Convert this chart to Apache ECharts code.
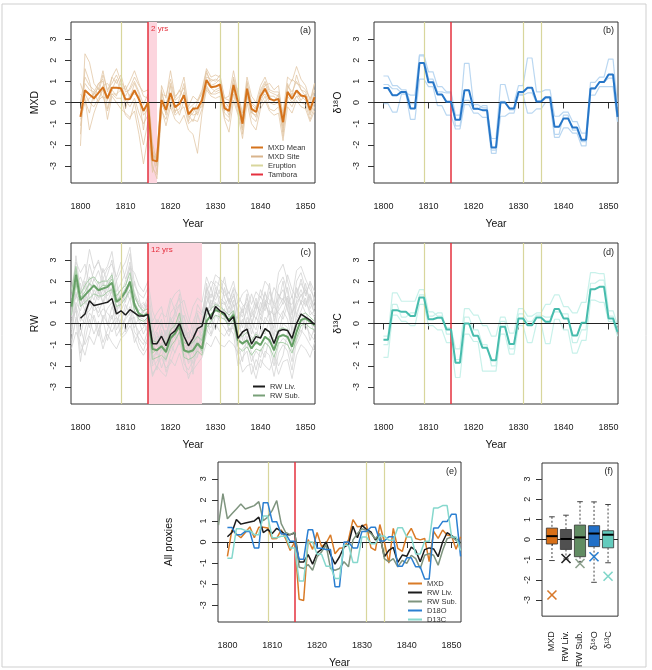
<!DOCTYPE html>
<html><head><meta charset="utf-8">
<script src="https://cdn.jsdelivr.net/npm/echarts@6.0.0/dist/echarts.min.js"></script>
<style>html,body{margin:0;padding:0;background:#fff}#c{width:652px;height:670px}</style>
</head><body><div id="c"></div>
<script>
// ---------- DATA ----------
const xTicks = [1800,1810,1820,1830,1840,1850];
const yTicks = [-3,-2,-1,0,1,2,3];
const eruptions = [1809,1831,1835];
const tambora = 1815;

// MXD (1800-1852)
const mxdMean = [-0.68,0.58,0.38,0.2,0.45,0.72,0.2,0.7,0.7,0.67,
 0.15,0.17,0.58,0.15,-0.4,0.0,-2.72,-2.78,0.12,-0.35,
 0.45,-0.22,-0.06,0.34,-0.56,-0.3,-0.27,0.1,1.06,0.72,
 0.75,0.85,-0.27,-0.4,0.83,0.0,-1.0,0.65,-0.3,-0.45,
 0.3,0.65,0.17,0.1,0.17,-0.93,0.5,0.17,0.57,0.33,
 0.28,-0.35,0.25];
const mxdSite1 = [-2.05,2.3,1.9,0.9,0.6,1.5,0.5,1.2,1.6,1.0,
 0.6,1.0,1.5,0.9,0.3,0.2,-2.3,-3.3,0.8,0.2,
 1.5,0.3,0.5,1.2,-0.2,0.3,0.1,0.6,1.6,1.2,
 1.3,1.2,0.2,0.3,1.5,0.4,-0.5,1.2,0.3,0.0,
 0.8,1.2,0.6,0.5,0.5,-0.5,1.2,1.0,1.7,1.1,
 0.8,0.1,0.9];
const mxdSite2 = [0.9,0.2,-1.3,-0.5,0.1,0.3,-0.4,0.4,0.2,0.2,
 -0.6,-0.8,0.0,-1.0,-2.0,-0.9,-3.0,-3.6,-0.3,-1.1,
 -0.2,-0.8,-1.0,-0.6,-1.3,-1.5,-2.4,-0.5,0.6,0.3,
 0.2,0.3,-0.8,-1.4,0.1,-0.6,-1.7,0.0,-1.0,-1.3,
 -0.3,0.1,-0.4,-0.6,-0.5,-1.8,-0.2,-0.5,0.1,-0.2,
 -0.3,-0.9,-0.4];
const mxdSite3 = [-0.3,0.9,0.6,0.5,0.9,1.1,0.1,1.2,0.9,1.3,
 0.5,0.6,1.0,0.5,-0.1,0.4,-2.5,-2.6,0.5,-0.2,
 0.9,0.1,0.3,0.7,-0.3,-0.1,0.1,0.4,1.4,1.0,
 1.1,1.0,0.0,-0.2,1.2,0.3,-0.7,1.0,0.0,-0.2,
 0.6,1.0,0.5,0.4,0.3,-0.7,0.8,0.5,1.0,0.6,
 0.5,-0.1,0.9];
const mxdSite4 = [-1.1,0.4,0.0,-0.2,0.2,0.6,-0.8,0.3,0.0,-0.3,
 -0.5,-0.7,-0.4,-1.5,-2.9,-1.6,-3.1,-3.4,-0.4,-0.8,
 0.0,-0.6,-0.4,-0.2,-1.0,-0.8,-0.9,-0.3,0.7,0.4,
 0.4,0.5,-0.7,-0.9,0.4,-0.5,-1.3,0.3,-0.7,-0.9,
 -0.1,0.3,-0.3,-0.4,-0.2,-1.4,0.1,-0.2,0.3,0.0,
 -0.1,-0.8,-0.2];
const mxdSite5 = [0.0,1.2,0.8,0.6,0.4,1.3,0.6,0.9,1.3,0.8,
 0.3,0.7,1.2,0.8,0.5,0.6,-1.9,-2.9,0.4,0.3,
 1.1,0.2,0.6,0.2,-0.4,-0.6,-0.5,0.3,1.2,1.1,
 1.0,1.3,0.2,0.1,0.9,0.6,-0.9,0.9,-0.1,-0.3,
 0.4,0.8,0.9,0.6,0.8,-0.9,0.6,1.1,0.9,0.8,
 0.6,0.2,0.5];
const mxdSite6 = [-0.8,0.0,0.2,0.4,0.7,0.2,0.3,0.4,0.4,0.6,
 0.1,-0.2,0.2,-0.5,-1.0,-0.6,-2.8,-2.3,-0.1,-0.5,
 0.2,-0.4,-0.3,0.5,-0.9,-0.2,-0.6,0.0,0.8,0.4,
 0.6,0.7,-0.5,-0.7,0.6,-0.3,-1.2,0.4,-0.5,-0.6,
 0.2,0.4,0.0,-0.1,0.0,-1.2,0.3,0.0,0.3,0.3,
 0.1,-0.6,0.0];
const mxdSite7 = [-1.5,1.6,1.0,0.1,0.9,1.0,-0.3,0.6,1.1,0.5,
 0.8,0.2,0.9,0.4,-0.6,-0.3,-3.3,-2.4,0.6,-0.6,
 0.8,-0.5,0.2,0.9,-0.7,-0.5,0.0,0.5,1.5,0.8,
 0.9,1.1,-0.1,-0.6,1.1,0.2,-1.5,0.7,-0.4,-0.7,
 0.5,0.9,0.3,0.0,0.4,-1.6,0.9,0.3,1.3,0.6,
 0.3,-0.4,0.6];
const mxdSite8 = [0.4,0.1,-0.5,0.5,0.0,0.8,0.9,0.6,0.3,1.1,
 -0.3,0.4,0.4,0.3,-1.3,0.2,-2.2,-3.0,-0.2,0.0,
 0.4,-0.1,-0.6,0.1,-0.6,-0.9,-0.3,-0.2,0.9,0.7,
 0.5,0.6,-0.4,0.0,0.6,-0.2,-0.8,0.5,-0.5,-0.2,
 0.0,0.6,0.3,0.3,0.0,-1.1,0.4,0.4,0.5,0.1,
 0.4,-0.5,0.3];

// delta 18O (1800-1852)
const d18Mean = [0.69,0.69,0.34,0.34,0.5,0.5,-0.28,-0.28,1.87,1.87,
 0.96,0.96,0.38,0.38,0.03,0.03,-0.82,-0.82,0.58,0.58,
 -0.3,-0.3,-0.36,-0.36,-2.12,-2.12,0.0,0.0,-0.28,-0.28,
 0.5,0.5,0.7,0.7,0.05,0.05,0.25,0.25,-1.15,-1.15,
 -0.75,-0.75,-1.18,-1.18,-1.76,-1.76,0.66,0.66,0.97,0.97,
 1.32,1.32,-0.68];
const d18Ind1 = [1.25,1.25,0.8,0.8,0.6,0.6,-0.05,-0.05,2.25,2.25,
 1.45,1.45,0.75,0.75,0.5,0.5,-0.6,-0.6,1.85,1.85,
 -0.1,-0.1,-0.25,-0.25,-1.7,-1.7,0.85,0.85,0.0,0.0,
 0.8,0.8,2.1,2.1,0.5,0.5,0.6,0.6,-0.65,-0.65,
 -0.45,-0.45,-0.9,-0.9,-1.45,-1.45,0.95,0.95,1.2,1.2,
 2.05,2.05,-0.2];
const d18Ind2 = [-0.05,-0.05,-0.45,-0.45,0.4,0.4,-0.8,-0.8,1.1,1.1,
 0.75,0.75,-0.15,-0.15,-0.6,-0.6,-1.25,-1.25,-0.1,-0.1,
 -0.5,-0.5,-0.7,-0.7,-2.4,-2.4,-0.65,-0.65,-0.5,-0.5,
 0.4,0.4,-0.5,-0.5,-0.3,-0.3,0.0,0.0,-1.65,-1.65,
 -1.2,-1.2,-1.45,-1.45,-2.05,-2.05,0.35,0.35,0.75,0.75,
 0.75,0.75,-0.9];
const d18Ind3 = [0.85,0.85,0.65,0.65,0.45,0.45,0.35,0.35,2.2,2.2,
 1.1,1.1,0.5,0.5,0.45,0.45,-1.1,-1.1,0.1,0.1,
 -0.3,-0.3,-0.15,-0.15,-2.25,-2.25,0.05,0.05,-0.35,-0.35,
 0.35,0.35,0.45,0.45,0.0,0.0,0.2,0.2,-1.5,-1.5,
 -0.6,-0.6,-1.3,-1.3,-1.85,-1.85,0.7,0.7,0.95,0.95,
 1.15,1.15,-0.9];

// delta 13C (1800-1852)
const d13Mean = [-0.77,-0.77,0.63,0.63,0.55,0.55,0.35,0.35,1.23,1.23,
 0.2,0.2,0.27,0.27,-0.28,-0.28,-1.85,-1.85,0.0,0.0,
 -0.58,-0.58,-1.15,-1.15,-1.73,-1.73,-0.15,-0.15,-0.97,-0.97,
 0.24,0.24,-0.08,-0.08,0.28,0.28,0.08,0.08,0.68,0.68,
 0.24,0.24,-0.57,-0.57,0.03,0.03,1.62,1.62,1.73,1.73,
 0.24,0.24,-0.4];
const d13Ind1 = [-0.6,-0.6,1.45,1.45,1.05,1.05,1.05,1.05,1.6,1.6,
 0.55,0.55,0.35,0.35,-0.2,-0.2,-1.2,-1.2,0.7,0.7,
 0.4,0.4,-0.1,-0.1,-0.6,-0.6,0.3,0.3,-0.45,-0.45,
 0.7,0.7,0.35,0.35,0.5,0.5,0.9,0.9,1.35,1.35,
 0.8,0.8,0.5,0.5,1.0,1.0,2.4,2.4,2.35,2.35,
 0.6,0.6,-0.1];
const d13Ind2 = [-1.6,-1.6,0.4,0.4,0.1,0.1,-0.1,-0.1,0.9,0.9,
 -0.1,-0.1,-0.3,-0.3,-0.9,-0.9,-2.55,-2.55,-0.5,-0.5,
 -0.85,-0.85,-2.25,-2.25,-2.25,-2.25,-0.5,-0.5,-1.45,-1.45,
 -0.1,-0.1,-0.9,-0.9,0.0,0.0,-0.95,-0.95,0.2,0.2,
 -0.3,-0.3,-1.4,-1.4,-0.8,-0.8,1.1,1.1,1.0,1.0,
 0.1,0.1,-0.6];
const d13Ind3 = [-1.0,-1.0,0.9,0.9,0.3,0.3,0.5,0.5,1.35,1.35,
 0.35,0.35,0.5,0.5,-0.5,-0.5,-1.7,-1.7,0.3,0.3,
 -0.3,-0.3,-1.0,-1.0,-2.0,-2.0,0.1,0.1,-1.2,-1.2,
 0.45,0.45,0.1,0.1,0.4,0.4,0.3,0.3,0.55,0.55,
 0.45,0.45,-0.9,-0.9,-0.3,-0.3,1.9,1.9,2.05,2.05,
 0.35,0.35,-0.3];

// RW living (1800-1852)
const rwLiv = [0.25,0.45,1.07,0.85,0.9,0.95,1.0,1.18,0.45,0.6,
 0.4,0.65,0.5,0.35,0.35,0.43,-0.95,-0.95,-0.6,-1.05,
 -0.52,-0.35,0.0,-0.6,-1.05,-0.7,-0.24,-0.12,0.75,0.2,
 0.8,0.6,0.48,0.1,0.32,-0.7,-0.4,-0.26,-0.97,-0.62,
 -0.68,-0.24,-0.4,-0.94,-0.36,-0.28,-0.33,-0.7,0.0,0.44,
 0.3,0.16,-0.05];
// RW subfossil (1798-1852)
const rwSubMean = [0.8,2.3,
 1.1,1.34,1.57,1.8,1.57,1.65,1.73,1.92,1.02,1.18,
 1.5,1.97,0.87,0.45,0.35,0.47,-1.2,-1.26,-1.07,-1.34,
 -0.7,-0.47,-0.13,-1.26,-1.34,-1.26,-0.94,-1.18,0.1,0.4,
 0.63,0.55,0.4,0.16,0.4,-0.79,-0.94,-0.79,-1.18,-0.87,
 -1.02,-0.63,-0.79,-1.26,-0.63,-0.55,-0.63,-1.1,-0.4,0.16,
 0.24,0.08,-0.08];
const rwSub1 = [1.5,2.7,
 1.4,1.8,2.1,2.2,1.9,2.0,2.0,2.3,1.3,1.6,
 1.8,2.4,1.3,0.8,0.6,0.7,-0.8,-0.9,-0.6,-1.0,
 -0.3,-0.1,0.5,-0.9,-1.0,-0.9,-0.6,-0.8,0.4,0.7,
 0.9,0.8,0.6,0.4,0.6,-0.5,-0.6,-0.4,-0.8,-0.5,
 -0.7,-0.3,-0.4,-0.9,-0.3,-0.2,-0.3,-0.8,-0.1,0.4,
 0.5,0.3,0.1];
const rwSub2 = [0.4,1.9,
 0.8,1.0,1.2,1.4,1.3,1.3,1.5,1.6,0.8,0.9,
 1.2,1.6,0.6,0.2,0.1,0.3,-1.7,-1.6,-1.5,-1.7,
 -1.1,-0.8,-0.4,-1.6,-1.7,-1.6,-1.3,-1.5,-0.2,0.1,
 0.4,0.3,0.2,-0.1,0.2,-1.1,-1.3,-1.1,-1.5,-1.2,
 -1.3,-0.9,-1.1,-1.6,-0.9,-0.9,-1.0,-1.4,-0.7,-0.1,
 0.0,-0.2,-0.3];
const rwSub3 = [0.9,2.5,
 1.2,1.5,1.9,1.7,1.6,1.8,1.8,2.1,1.1,1.3,
 1.6,2.0,1.0,0.5,0.4,0.6,-1.4,-1.2,-1.1,-1.4,
 -0.6,-0.5,0.1,-1.3,-1.4,-1.3,-1.0,-1.3,0.1,0.4,
 0.7,0.6,0.4,0.2,0.5,-0.8,-1.0,-0.8,-1.2,-0.9,
 -1.0,-0.6,-0.8,-1.3,-0.6,-0.5,-0.6,-1.1,-0.4,0.2,
 0.3,0.1,-0.1];
// RW individual series (grey, 1798-1852)
const rwG1 = [0.5,1.8, 2.2,1.6,2.8,2.0,2.5,1.8,2.3,3.0,1.5,1.9, 2.4,3.3,1.2,0.9,0.5,1.1,-0.6,-0.3,0.2,-0.8, 0.5,0.8,1.2,-0.2,-0.7,0.1,0.6,0.4,1.7,1.2, 2.0,1.8,1.5,1.0,1.6,0.2,0.8,1.0,0.3,0.9, 0.6,1.4,1.1,0.3,1.8,2.2,1.5,0.4,2.0,2.4, 1.6,1.2,0.8];
const rwG2 = [-0.5,0.9, -1.4,-0.8,0.2,-0.5,0.1,-0.9,-0.3,0.4,-0.6,-0.2, 0.3,0.8,-0.4,-0.7,-1.0,-0.3,-2.0,-1.8,-1.2,-2.3, -1.5,-0.9,-0.4,-1.9,-2.2,-1.7,-1.1,-0.8,0.2,-0.5, 0.4,0.1,-0.2,-0.6,0.0,-1.5,-1.2,-0.9,-1.8,-1.3, -1.6,-0.9,-1.1,-2.0,-1.0,-0.7,-0.9,-1.8,-0.4,0.2, -0.1,-0.5,-0.8];
const rwG3 = [1.2,2.6, 0.8,1.2,1.9,1.4,1.1,1.6,1.3,1.7,0.6,0.9, 1.4,1.8,0.8,0.4,0.6,0.9,-1.2,-0.9,-0.5,-1.4, -0.2,0.3,0.9,-1.0,-1.3,-0.8,-0.2,0.1,1.3,0.7, 1.5,1.2,1.0,0.5,1.1,-0.4,0.1,0.6,-0.5,0.3, -0.1,0.9,0.5,-0.6,0.8,1.2,0.7,-0.3,1.1,1.6, 1.0,0.6,0.3];
const rwG4 = [-0.2,1.5, 0.3,0.0,1.0,0.6,0.8,0.2,0.7,1.0,-0.3,0.2, 0.6,1.2,0.0,-0.4,-0.2,0.3,-1.6,-1.3,-0.9,-1.7, -0.8,-0.4,0.3,-1.4,-1.8,-1.2,-0.6,-0.4,0.8,0.2, 1.0,0.7,0.5,0.0,0.6,-0.9,-0.5,0.1,-1.0,-0.4, -0.7,0.3,0.0,-1.2,0.2,0.6,0.2,-0.9,0.5,1.0, 0.5,0.1,-0.2];
const rwG5 = [0.8,3.2, 1.5,2.2,3.5,2.6,2.9,2.4,2.7,3.4,2.0,2.5, 2.9,3.6,1.8,1.4,1.2,1.7,0.1,0.5,0.8,-0.2, 1.0,1.4,1.6,0.6,0.0,0.8,1.2,1.0,2.2,1.6, 2.3,2.1,1.9,1.4,2.0,0.9,1.4,1.6,0.9,1.5, 1.2,2.0,1.7,0.9,2.4,2.8,2.0,1.2,2.5,2.7, 2.1,1.6,1.2];
const rwG6 = [0.2,0.6, -0.6,0.4,0.6,1.0,0.3,0.7,0.5,0.2,0.9,-0.4, 0.2,0.5,0.6,0.1,-0.5,0.0,-0.8,-1.5,-0.3,-1.0, -1.1,0.0,-0.5,-0.6,-1.0,-2.4,-0.6,-1.0,0.5,0.9, 0.6,1.3,0.2,0.8,0.3,0.3,-0.8,0.3,-0.2,-0.7, 0.3,0.0,0.6,-0.3,-0.5,0.5,1.2,-0.5,0.2,0.6, 1.2,0.4,0.6];
const rwG7 = [1.0,1.2, 1.9,0.9,1.4,2.1,1.7,1.3,2.0,1.4,1.2,1.6, 1.0,2.2,1.5,0.8,1.0,0.6,-0.4,0.2,-0.1,-0.5, 0.2,-0.2,0.5,0.3,-0.3,-0.6,0.4,-0.3,1.0,1.4, 1.1,1.6,1.3,1.5,0.8,1.0,0.5,1.2,0.6,0.2, 1.0,0.6,1.5,0.8,1.2,1.6,1.0,0.9,1.5,1.9, 1.4,1.9,1.0];
const rwG8 = [-1.0,0.3, -0.2,-1.0,-0.5,0.4,-0.3,0.2,-0.8,0.0,0.3,-0.6, -0.3,0.3,-0.9,-0.4,-0.8,-1.0,-2.4,-2.0,-1.6,-2.1, -1.9,-1.3,-0.9,-1.6,-2.6,-2.0,-1.5,-1.2,-0.3,-0.6, 0.0,-0.4,-0.6,-0.2,-0.5,-2.0,-1.6,-1.3,-2.4,-1.7, -2.1,-1.3,-1.5,-2.5,-1.4,-1.0,-1.3,-2.2,-0.8,-0.3, -0.6,-1.0,-1.3];
const rwG9 = [0.6,2.0, 1.2,0.6,1.6,1.1,2.0,0.9,1.5,2.4,0.6,1.2, 1.7,2.7,0.6,0.2,-0.1,0.4,-1.0,-0.6,-0.8,-1.2, -0.4,-0.7,0.5,-0.5,-1.5,-0.9,-0.3,-0.6,1.6,0.6, 1.7,0.9,1.0,0.3,0.9,-0.2,0.2,-0.3,-0.2,1.0, 0.4,1.1,0.2,-0.2,1.4,0.9,1.3,0.0,0.8,1.4, 0.8,1.3,0.4];
const rwG10 = [0.0,1.0, 0.6,1.4,0.9,1.6,1.2,2.1,1.0,1.6,1.3,0.6, 1.1,1.5,1.4,1.0,0.7,1.3,-0.2,-0.9,0.0,-0.6, 0.3,-0.3,-0.2,0.4,-0.9,-1.2,0.0,-0.8,0.4,1.1, 0.8,0.5,1.7,0.9,1.3,0.5,-0.2,0.9,0.1,-0.3, 0.7,1.5,0.6,0.4,0.6,1.0,1.7,0.5,1.0,1.3, 1.6,0.7,1.2];
const rwG11 = [0.3,2.2, 1.6,1.0,2.2,1.8,1.4,2.6,1.9,2.2,1.0,1.4, 2.0,2.9,1.0,0.6,0.9,0.8,-0.5,-1.1,-0.4,-0.9, 0.1,0.5,1.4,-0.7,-0.4,-1.4,0.5,-0.2,1.9,0.9, 1.3,2.2,1.2,0.7,1.4,0.6,0.3,1.4,0.0,0.6, 1.3,0.8,1.9,0.1,1.0,2.0,0.6,0.2,1.7,0.9, 1.9,1.0,0.5];
const rwG12 = [-0.8,0.2, -1.8,-0.3,0.5,0.2,-0.6,0.4,0.0,-0.4,0.1,0.5, -0.4,0.2,0.3,-0.9,-1.3,-0.6,-1.4,-2.2,-1.0,-1.8, -0.9,-1.4,-0.8,-1.1,-1.9,-1.5,-0.8,-1.4,-0.5,0.3, -0.3,0.5,0.4,-0.3,-0.2,-1.0,-1.8,-0.6,-1.4,-2.2, -1.2,-1.6,-0.6,-1.4,-2.0,-1.5,-0.4,-1.3,-1.0,-0.5, 0.3,-0.8,-0.2];
const rwG13 = [0.4,1.4, 0.9,2.0,1.2,0.8,1.5,1.0,1.8,1.2,2.0,0.8, 1.6,1.1,2.0,1.2,0.3,0.6,-1.0,-0.4,-1.3,-0.3, -0.6,0.6,0.0,-0.2,-1.1,-0.3,-1.6,0.2,0.9,1.7, 0.7,1.0,0.9,1.2,0.4,-0.1,0.7,-0.2,0.5,1.2, 0.2,1.0,0.4,0.8,0.5,0.2,0.9,1.3,0.3,1.1, 0.9,1.4,0.7];
const rwG14 = [-0.3,0.8, 0.1,0.7,-0.2,0.9,0.5,1.1,-0.1,0.8,0.3,0.0, 0.9,0.4,-0.2,0.3,0.2,-0.5,-1.9,-1.2,-2.1,-1.5, -1.3,-0.2,-1.0,-0.3,-1.4,-1.9,-1.2,-0.6,0.0,-0.2, 0.9,0.2,0.7,-0.4,0.1,-0.6,-1.0,-0.4,-0.6,-1.0, -0.3,-0.5,0.2,-0.8,-0.6,0.0,-0.2,-1.0,-0.1,0.5, -0.3,0.2,-0.5];
const rwG15 = [1.6,2.9, 2.4,2.8,1.8,2.5,3.0,2.1,2.6,2.8,2.2,2.9, 2.1,2.6,2.4,1.8,1.5,2.0,0.6,0.0,0.5,0.3, 1.2,0.6,0.9,1.1,0.3,-0.3,0.9,0.5,1.5,2.0, 1.8,1.4,2.2,1.0,1.7,1.3,0.9,0.6,1.4,0.7, 1.6,1.1,0.9,1.7,1.3,1.1,2.3,1.6,1.2,2.1, 1.3,2.0,1.5];
const rwG16 = [-1.2,-0.4, -0.9,-1.5,-0.6,-1.0,-0.3,-1.2,-0.5,-0.9,-1.2,-0.7, -0.5,-0.1,-0.6,-1.2,-1.5,-1.1,-2.5,-2.0,-2.3,-2.5, -1.7,-2.0,-1.4,-2.2,-2.4,-2.2,-1.9,-1.6,-0.9,-1.1, -0.6,-1.0,-1.1,-0.8,-1.0,-1.4,-2.3,-2.0,-1.9,-2.6, -1.7,-2.0,-2.2,-1.6,-2.4,-1.8,-1.7,-2.6,-1.5,-1.0, -1.2,-1.6,-0.9];

// Box plot (f): [min, Q1, median, Q3, max]
const boxCats = ['MXD','RW Liv.','RW Sub.','δ¹⁸O','δ¹³C'];
const boxStats = [[-1.04,-0.22,0.17,0.57,1.13],[-0.96,-0.49,0.03,0.5,1.21],[-1.1,-0.85,0.11,0.72,1.88],[-2.12,-0.35,0.3,0.69,1.87],[-1.15,-0.41,0.24,0.44,1.74]];
const tamboraVals = [-2.75,-0.94,-1.19,-0.85,-1.82];

// ---------- STYLE ----------
const F = '"Liberation Sans", Arial, sans-serif';
const C = {mxd:'#d5731c', mxdSite:'#e0c4a2', erup:'#d8d69c', tamb:'#e5303e', shade:'#fcd5de',
  d18:'#2676c8', d18i:'#b2d3f0', d13:'#47bcad', d13i:'#c2efe8', liv:'#1c1c1c', sub:'#5c9a5c', subi:'#a3cba3', grey:'#d2d2d2',
  eMxd:'#d97b27', eSub:'#7e947e', eD18:'#2b7fd1', eD13:'#86d8cd'};
const boxColors = ['#d86f17','#505050','#618c62','#2270c8','#63cbbd'];
const xColors = ['#d8792a','#222222','#8da18d','#2a7fd0','#7fd6c9'];

const pts = (start, vals) => vals.map((v, i) => [start + i, v]);

const grids = [
  {left:71, top:22, width:244, height:161},
  {left:374, top:22, width:244, height:161},
  {left:71, top:243, width:244, height:161},
  {left:374, top:243, width:244, height:161},
  {left:218, top:462, width:243, height:163},
  {left:542, top:463, width:76, height:161}
].map(g => Object.assign(g, {show:true, borderColor:'#333', borderWidth:1, backgroundColor:'transparent'}));

function xAx(i) {
  return {type:'value', gridIndex:i, min:1797.9, max:1852.1, name:'Year', nameLocation:'middle', nameGap:36,
    nameTextStyle:{fontSize:10.5, color:'#111', fontFamily:F},
    axisLine:{show:false}, splitLine:{show:false},
    axisTick:{show:true, length:6, customValues:xTicks, lineStyle:{color:'#333'}},
    axisLabel:{customValues:xTicks, fontSize:9, margin:19, color:'#222', fontFamily:F, formatter:v => String(v)}};
}
function yAx(i, name, gap, lm) {
  return {type:'value', gridIndex:i, min:-3.8, max:3.8, name:name, nameLocation:'middle', nameGap:gap,
    nameTextStyle:{fontSize:10.5, color:'#111', fontFamily:F},
    axisLine:{show:false}, splitLine:{show:false},
    axisTick:{show:true, length:6, customValues:yTicks, lineStyle:{color:'#333'}},
    axisLabel:{customValues:yTicks, rotate:90, fontSize:9, margin:lm, color:'#222', fontFamily:F, formatter:v => String(v)}};
}

const xAxes = [xAx(0), xAx(1), xAx(2), xAx(3), xAx(4),
  {type:'value', gridIndex:5, min:0.29, max:5.71, axisLine:{show:false}, splitLine:{show:false},
   axisTick:{show:true, length:6, customValues:[1,2,3,4,5], lineStyle:{color:'#333'}},
   axisLabel:{customValues:[1,2,3,4,5], rotate:90, fontSize:9, margin:15, color:'#222', fontFamily:F, formatter:v => boxCats[Math.round(v) - 1]}}];
const yAxes = [yAx(0,'MXD',30,13), yAx(1,'δ¹⁸O',30,13), yAx(2,'RW',30,13), yAx(3,'δ¹³C',30,13), yAx(4,'All proxies',43,10), yAx(5,'',28,10)];

const series = [];
function line(i, name, start, vals, color, width, opacity, z) {
  series.push({type:'line', name:name, xAxisIndex:i, yAxisIndex:i, data:pts(start, vals), symbol:'none', showSymbol:false,
    color:color, lineStyle:{color:color, width:width, opacity:opacity}, z:z, silent:true, animation:false});
}
function decor(i, start, ref, shadeEnd, shadeLabel) {
  if (shadeEnd) {
    series.push({type:'line', name:'shade'+i, xAxisIndex:i, yAxisIndex:i, data:pts(start, ref), symbol:'none', showSymbol:false,
      lineStyle:{opacity:0, width:0}, z:0, silent:true,
      markArea:{silent:true, itemStyle:{color:C.shade}, label:{show:true, position:'insideTopLeft', formatter:shadeLabel, color:C.tamb, fontSize:8, fontFamily:F, distance:3},
        data:[[{xAxis:tambora, yAxis:-3.8},{xAxis:shadeEnd, yAxis:3.8}]]}});
  }
  series.push({type:'line', name:'Eruption', xAxisIndex:i, yAxisIndex:i, data:[], color:C.erup, z:1, silent:true,
    markLine:{silent:true, symbol:'none', label:{show:false}, animation:false, lineStyle:{color:C.erup, width:1.2, type:'solid'},
      data:eruptions.map(e => ({xAxis:e}))}});
}
function overlay(i) {
  series.push({type:'line', name:'zero'+i, xAxisIndex:i, yAxisIndex:i, data:[], z:20, silent:true,
    markLine:{silent:true, symbol:'none', label:{show:false}, animation:false, lineStyle:{color:'#222', width:1, type:'solid'}, data:[{yAxis:0}]}});
  if (i < 5) series.push({type:'line', name:'Tambora', xAxisIndex:i, yAxisIndex:i, data:[], color:C.tamb, z:21, silent:true,
    markLine:{silent:true, symbol:'none', label:{show:false}, animation:false, lineStyle:{color:C.tamb, width:1.5, type:'solid'}, data:[{xAxis:tambora}]}});
}

// (a)
decor(0, 1800, mxdMean, 1817, '2 yrs');
[mxdSite1, mxdSite2, mxdSite3, mxdSite4, mxdSite5, mxdSite6, mxdSite7, mxdSite8].forEach(s => line(0, 'MXD Site', 1800, s, C.mxdSite, 1, 0.75, 3));
line(0, 'MXD Mean', 1800, mxdMean, C.mxd, 2, 1, 5);
overlay(0);
// (b)
decor(1);
[d18Ind1, d18Ind2, d18Ind3].forEach(s => line(1, 'd18i', 1800, s, C.d18i, 1.2, 0.9, 3));
line(1, 'd18m', 1800, d18Mean, C.d18, 2, 1, 5);
overlay(1);
// (c)
decor(2, 1800, rwLiv, 1827, '12 yrs');
[rwG1, rwG2, rwG3, rwG4, rwG5, rwG6, rwG7, rwG8, rwG9, rwG10, rwG11, rwG12, rwG13, rwG14, rwG15, rwG16].forEach(s => line(2, 'rwgrey', 1798, s, C.grey, 1, 0.75, 2));
[rwSub1, rwSub2, rwSub3].forEach(s => line(2, 'rwsubi', 1798, s, C.subi, 1, 0.9, 3));
line(2, 'RW Sub.', 1798, rwSubMean, C.sub, 2, 0.9, 4);
line(2, 'RW Liv.', 1800, rwLiv, C.liv, 1.5, 1, 5);
overlay(2);
// (d)
decor(3);
[d13Ind1, d13Ind2, d13Ind3].forEach(s => line(3, 'd13i', 1800, s, C.d13i, 1.2, 0.9, 3));
line(3, 'd13m', 1800, d13Mean, C.d13, 2, 1, 5);
overlay(3);
// (e)
decor(4);
line(4, 'MXD', 1800, mxdMean, C.eMxd, 1.5, 1, 5);
line(4, 'RW Liv.', 1800, rwLiv, C.liv, 1.5, 1, 5);
line(4, 'RW Sub.', 1798, rwSubMean, C.eSub, 1.5, 1, 5);
line(4, 'D18O', 1800, d18Mean, C.eD18, 1.5, 1, 5);
line(4, 'D13C', 1800, d13Mean, C.eD13, 1.5, 1, 5);
overlay(4);
// (f)
series.push({type:'custom', name:'box', xAxisIndex:5, yAxisIndex:5, z:5, silent:true, animation:false,
  data:boxStats.map((b, i) => [i + 1].concat(b)),
  encode:{x:0, y:[1,2,3,4,5]},
  renderItem:function(params, api) {
    const i = params.dataIndex, x = api.value(0);
    const lo = api.coord([x, api.value(1)]), q1 = api.coord([x, api.value(2)]), md = api.coord([x, api.value(3)]),
          q3 = api.coord([x, api.value(4)]), hi = api.coord([x, api.value(5)]);
    const hw = api.size([0.8, 0])[0] / 2, cw = hw * 0.5, cx = md[0];
    const ws = {stroke:'#444', lineWidth:1, lineDash:[2,2]}, cs = {stroke:'#444', lineWidth:1};
    return {type:'group', children:[
      {type:'line', shape:{x1:cx, y1:hi[1], x2:cx, y2:q3[1]}, style:ws},
      {type:'line', shape:{x1:cx, y1:q1[1], x2:cx, y2:lo[1]}, style:ws},
      {type:'line', shape:{x1:cx - cw, y1:hi[1], x2:cx + cw, y2:hi[1]}, style:cs},
      {type:'line', shape:{x1:cx - cw, y1:lo[1], x2:cx + cw, y2:lo[1]}, style:cs},
      {type:'rect', shape:{x:cx - hw, y:q3[1], width:2 * hw, height:q1[1] - q3[1]}, style:{fill:boxColors[i], stroke:'#333', lineWidth:0.8}},
      {type:'line', shape:{x1:cx - hw, y1:md[1], x2:cx + hw, y2:md[1]}, style:{stroke:'#000', lineWidth:2}}
    ]};
  }});
series.push({type:'custom', name:'tamb', xAxisIndex:5, yAxisIndex:5, z:6, silent:true, animation:false,
  data:tamboraVals.map((v, i) => [i + 1, v]), encode:{x:0, y:1},
  renderItem:function(params, api) {
    const p = api.coord([api.value(0), api.value(1)]), s = 4.5, st = {stroke:xColors[params.dataIndex], lineWidth:1.6};
    return {type:'group', children:[
      {type:'line', shape:{x1:p[0] - s, y1:p[1] - s, x2:p[0] + s, y2:p[1] + s}, style:st},
      {type:'line', shape:{x1:p[0] - s, y1:p[1] + s, x2:p[0] + s, y2:p[1] - s}, style:st}]};
  }});
overlay(5);

const legBase = {orient:'vertical', icon:'rect', itemHeight:2, itemGap:0, padding:0, selectedMode:false,
  textStyle:{fontSize:7.5, lineHeight:9, color:'#333', fontFamily:F}};
const legends = [
  Object.assign({}, legBase, {left:251, top:143, itemWidth:12, data:[
    {name:'MXD Mean', itemStyle:{color:C.mxd}}, {name:'MXD Site', itemStyle:{color:'#d9b48c'}},
    {name:'Eruption', itemStyle:{color:C.erup}}, {name:'Tambora', itemStyle:{color:C.tamb}}]}),
  Object.assign({}, legBase, {left:253, top:382, itemWidth:12, data:[
    {name:'RW Liv.', itemStyle:{color:C.liv}}, {name:'RW Sub.', itemStyle:{color:'#78a078'}}]}),
  Object.assign({}, legBase, {left:408, top:579, itemWidth:14, data:[
    {name:'MXD', itemStyle:{color:C.eMxd}}, {name:'RW Liv.', itemStyle:{color:C.liv}}, {name:'RW Sub.', itemStyle:{color:C.eSub}},
    {name:'D18O', itemStyle:{color:C.eD18}}, {name:'D13C', itemStyle:{color:C.eD13}}]})
];

const pl = (t, x, y) => ({type:'text', x:x, y:y, style:{text:t, fontSize:9, fill:'#222', font:'9px ' + F, textAlign:'right', textVerticalAlign:'middle'}, silent:true});

const chart = echarts.init(document.getElementById('c'), null, {renderer:'canvas'});
chart.setOption({
  animation:false,
  backgroundColor:'#fff',
  grid:grids, xAxis:xAxes, yAxis:yAxes, series:series, legend:legends,
  graphic:[
    {type:'rect', shape:{x:2, y:4, width:644, height:663}, style:{fill:'none', stroke:'#cfcfcf', lineWidth:1}, silent:true, z:-1},
    pl('(a)', 311, 31), pl('(b)', 614, 31), pl('(c)', 311, 253), pl('(d)', 614, 253), pl('(e)', 457, 472), pl('(f)', 613, 472)
  ]
});
</script></body></html>
